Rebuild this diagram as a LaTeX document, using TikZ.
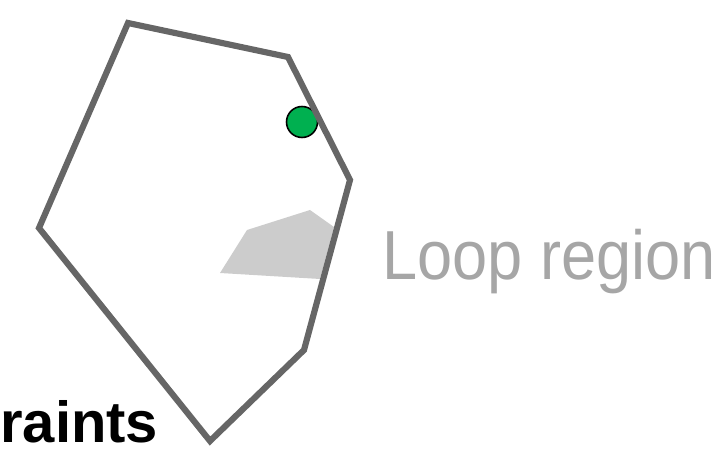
\documentclass[tikz,border=0pt]{standalone}
\usepackage{fontspec}
\setmainfont{Liberation Sans}
\usepackage{tikz}
\definecolor{edgegray}{HTML}{666666}
\definecolor{loopgray}{HTML}{CCCCCC}
\definecolor{labelgray}{HTML}{A6A6A6}
\definecolor{dotgreen}{HTML}{00B050}

\begin{document}
\begin{tikzpicture}[x=0.02cm,y=-0.02cm,
  hull/.style={draw=edgegray,line width=3.5pt},
  loopzone/.style={fill=loopgray},
  pivot/.style={circle,draw=black,line width=0.9pt,fill=dotgreen,minimum size=0.62cm,inner sep=0pt},
  looplabel/.style={anchor=base west,inner sep=0pt,text=labelgray,font=\fontsize{39.5}{40}\selectfont,xscale=0.91,transform shape},
  conslabel/.style={anchor=base west,inner sep=0pt,font=\fontsize{33}{34}\selectfont\bfseries}]
\useasboundingbox (0,0) rectangle (717,469);
\coordinate (p0) at (128,23);
\coordinate (p1) at (288,57);
\coordinate (p2) at (350,180);
\coordinate (p3) at (304,350);
\coordinate (p4) at (210,441);
\coordinate (p5) at (39,228);
\fill[loopzone] (220,273)--(247,230)--(310,210)--(334,227)--(320,279)--cycle;
\node[pivot] (dot) at (302,122) {};
\draw[hull] (p0)--(p1)--(p2)--(p3)--(p4)--(p5)--cycle;
\node[looplabel] (loop) at (382,280) {Loop region};
\node[conslabel] (cons) at (0,443) {raints};
\end{tikzpicture}
\end{document}
